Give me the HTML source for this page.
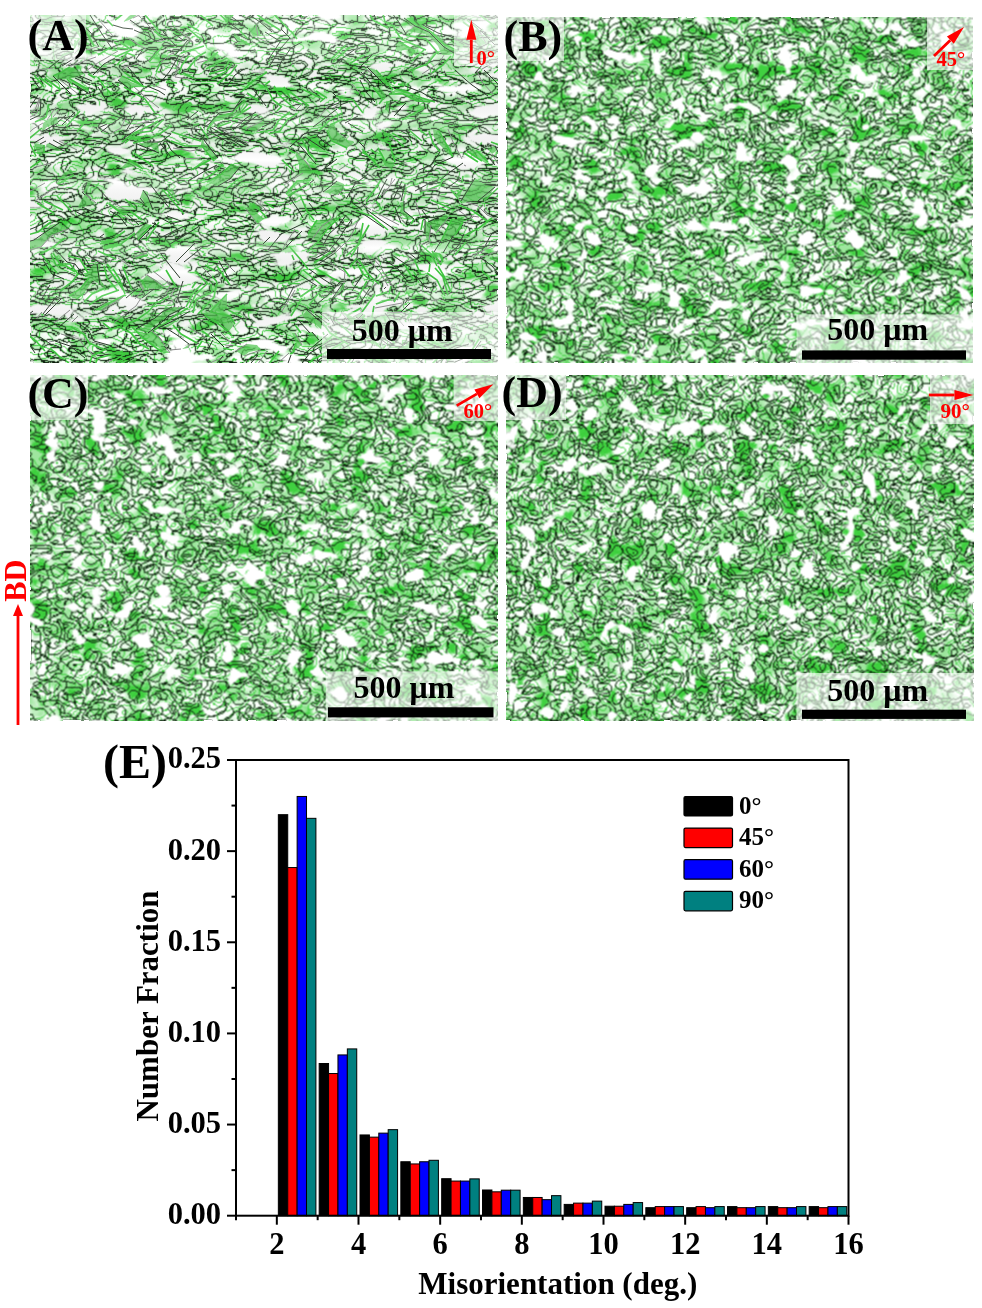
<!DOCTYPE html>
<html><head><meta charset="utf-8"><title>Figure</title>
<style>html,body{margin:0;padding:0;background:#fff;} svg{display:block}</style></head>
<body>
<svg width="982" height="1308" viewBox="0 0 982 1308">
<defs>
<filter id="soft" x="-2%" y="-2%" width="104%" height="104%"><feConvolveMatrix order="3" kernelMatrix="1 2 1 2 4 2 1 2 1"/></filter>
<filter id="mfA" x="0" y="0" width="1" height="1" color-interpolation-filters="sRGB"><feTurbulence type="fractalNoise" baseFrequency="0.024 0.05" numOctaves="2" seed="11"/><feColorMatrix values="1 0 0 0 0 0 1 0 0 0 0 0 1 0 0 0 0 0 0 1"/><feComponentTransfer result="p"><feFuncR type="discrete" tableValues="0.000 0.200 0.400 0.600 0.800 1.000"/><feFuncG type="discrete" tableValues="0.000 0.143 0.286 0.429 0.571 0.714 0.857 1.000"/><feFuncB type="discrete" tableValues="0.000 0.200 0.400 0.600 0.800 1.000"/></feComponentTransfer><feConvolveMatrix in="p" order="3" kernelMatrix="0 -1 0 -1 4 -1 0 -1 0" preserveAlpha="true" result="e"/><feColorMatrix in="e" values="0 0 0 0 0.04 0 0 0 0 0.1 0 0 0 0 0.04 40 0 40 0 0" result="blk"/><feColorMatrix in="e" values="0 0 0 0 0.22 0 0 0 0 0.8 0 0 0 0 0.22 0 40 0 0 0" result="grl"/><feGaussianBlur in="blk" stdDeviation="1.1"/><feColorMatrix values="0 0 0 0 0.28 0 0 0 0 0.82 0 0 0 0 0.28 0 0 0 1.1 -0.1" result="halo"/><feTurbulence type="fractalNoise" baseFrequency="0.03 0.06" numOctaves="3" seed="12" result="n2"/><feColorMatrix in="n2" values="0 0 0 0 0.62 0 0 0 0 0.9 0 0 0 0 0.62 4.0 0 0 0 -1.9" result="gl"/><feColorMatrix in="n2" values="0 0 0 0 0.25 0 0 0 0 0.82 0 0 0 0 0.25 0 8.0 0 0 -5.0" result="gb"/><feFlood flood-color="#fff" result="w"/><feMerge result="m"><feMergeNode in="w"/><feMergeNode in="gl"/><feMergeNode in="gb"/><feMergeNode in="halo"/><feMergeNode in="grl"/><feMergeNode in="blk"/></feMerge><feTurbulence type="fractalNoise" baseFrequency="0.02 0.06" numOctaves="2" seed="13"/><feColorMatrix values="0 0 0 0 1 0 0 0 0 1 0 0 0 0 1 16 0 0 0 -9.9" result="wh"/><feMerge result="m"><feMergeNode in="m"/><feMergeNode in="wh"/></feMerge><feTurbulence type="fractalNoise" baseFrequency="0.08" numOctaves="1" seed="16" result="t"/><feDisplacementMap in="m" in2="t" scale="3" xChannelSelector="R" yChannelSelector="G" result="m"/><feConvolveMatrix in="m" order="3" kernelMatrix="0 1 0 1 4 1 0 1 0" preserveAlpha="true"/></filter>
<clipPath id="cpA"><rect x="30" y="15" width="468" height="348"/></clipPath>
<filter id="mfB" x="0" y="0" width="1" height="1" color-interpolation-filters="sRGB"><feTurbulence type="fractalNoise" baseFrequency="0.04 0.05" numOctaves="2" seed="21"/><feColorMatrix values="1 0 0 0 0 0 1 0 0 0 0 0 1 0 0 0 0 0 0 1"/><feComponentTransfer result="p"><feFuncR type="discrete" tableValues="0.000 0.200 0.400 0.600 0.800 1.000"/><feFuncG type="discrete" tableValues="0.000 0.143 0.286 0.429 0.571 0.714 0.857 1.000"/><feFuncB type="discrete" tableValues="0.000 0.200 0.400 0.600 0.800 1.000"/></feComponentTransfer><feConvolveMatrix in="p" order="3" kernelMatrix="0 -1 0 -1 4 -1 0 -1 0" preserveAlpha="true" result="e"/><feColorMatrix in="e" values="0 0 0 0 0.04 0 0 0 0 0.1 0 0 0 0 0.04 45 0 45 0 0" result="blk"/><feColorMatrix in="e" values="0 0 0 0 0.22 0 0 0 0 0.8 0 0 0 0 0.22 0 40 0 0 0" result="grl"/><feGaussianBlur in="blk" stdDeviation="1.1"/><feColorMatrix values="0 0 0 0 0.28 0 0 0 0 0.82 0 0 0 0 0.28 0 0 0 1.1 -0.1" result="halo"/><feTurbulence type="fractalNoise" baseFrequency="0.04 0.05" numOctaves="3" seed="22" result="n2"/><feColorMatrix in="n2" values="0 0 0 0 0.62 0 0 0 0 0.9 0 0 0 0 0.62 4.0 0 0 0 -1.8" result="gl"/><feColorMatrix in="n2" values="0 0 0 0 0.25 0 0 0 0 0.82 0 0 0 0 0.25 0 8.0 0 0 -4.7" result="gb"/><feFlood flood-color="#fff" result="w"/><feMerge result="m"><feMergeNode in="w"/><feMergeNode in="gl"/><feMergeNode in="gb"/><feMergeNode in="halo"/><feMergeNode in="grl"/><feMergeNode in="blk"/></feMerge><feTurbulence type="fractalNoise" baseFrequency="0.045 0.06" numOctaves="2" seed="23"/><feColorMatrix values="0 0 0 0 1 0 0 0 0 1 0 0 0 0 1 20 0 0 0 -13.0" result="wh"/><feMerge result="m"><feMergeNode in="m"/><feMergeNode in="wh"/></feMerge><feTurbulence type="fractalNoise" baseFrequency="0.08" numOctaves="1" seed="26" result="t"/><feDisplacementMap in="m" in2="t" scale="3" xChannelSelector="R" yChannelSelector="G" result="m"/><feConvolveMatrix in="m" order="3" kernelMatrix="1 2 1 2 4 2 1 2 1" preserveAlpha="true"/></filter>
<clipPath id="cpB"><rect x="506" y="17" width="467" height="346"/></clipPath>
<filter id="mfC" x="0" y="0" width="1" height="1" color-interpolation-filters="sRGB"><feTurbulence type="fractalNoise" baseFrequency="0.04 0.05" numOctaves="2" seed="31"/><feColorMatrix values="1 0 0 0 0 0 1 0 0 0 0 0 1 0 0 0 0 0 0 1"/><feComponentTransfer result="p"><feFuncR type="discrete" tableValues="0.000 0.200 0.400 0.600 0.800 1.000"/><feFuncG type="discrete" tableValues="0.000 0.143 0.286 0.429 0.571 0.714 0.857 1.000"/><feFuncB type="discrete" tableValues="0.000 0.200 0.400 0.600 0.800 1.000"/></feComponentTransfer><feConvolveMatrix in="p" order="3" kernelMatrix="0 -1 0 -1 4 -1 0 -1 0" preserveAlpha="true" result="e"/><feColorMatrix in="e" values="0 0 0 0 0.04 0 0 0 0 0.1 0 0 0 0 0.04 45 0 45 0 0" result="blk"/><feColorMatrix in="e" values="0 0 0 0 0.22 0 0 0 0 0.8 0 0 0 0 0.22 0 40 0 0 0" result="grl"/><feGaussianBlur in="blk" stdDeviation="1.1"/><feColorMatrix values="0 0 0 0 0.28 0 0 0 0 0.82 0 0 0 0 0.28 0 0 0 1.1 -0.1" result="halo"/><feTurbulence type="fractalNoise" baseFrequency="0.04 0.05" numOctaves="3" seed="32" result="n2"/><feColorMatrix in="n2" values="0 0 0 0 0.62 0 0 0 0 0.9 0 0 0 0 0.62 4.0 0 0 0 -1.8" result="gl"/><feColorMatrix in="n2" values="0 0 0 0 0.25 0 0 0 0 0.82 0 0 0 0 0.25 0 8.0 0 0 -4.7" result="gb"/><feFlood flood-color="#fff" result="w"/><feMerge result="m"><feMergeNode in="w"/><feMergeNode in="gl"/><feMergeNode in="gb"/><feMergeNode in="halo"/><feMergeNode in="grl"/><feMergeNode in="blk"/></feMerge><feTurbulence type="fractalNoise" baseFrequency="0.045 0.06" numOctaves="2" seed="33"/><feColorMatrix values="0 0 0 0 1 0 0 0 0 1 0 0 0 0 1 20 0 0 0 -13.0" result="wh"/><feMerge result="m"><feMergeNode in="m"/><feMergeNode in="wh"/></feMerge><feTurbulence type="fractalNoise" baseFrequency="0.08" numOctaves="1" seed="36" result="t"/><feDisplacementMap in="m" in2="t" scale="3" xChannelSelector="R" yChannelSelector="G" result="m"/><feConvolveMatrix in="m" order="3" kernelMatrix="1 2 1 2 4 2 1 2 1" preserveAlpha="true"/></filter>
<clipPath id="cpC"><rect x="30" y="375" width="468" height="346"/></clipPath>
<filter id="mfD" x="0" y="0" width="1" height="1" color-interpolation-filters="sRGB"><feTurbulence type="fractalNoise" baseFrequency="0.045 0.05" numOctaves="2" seed="5"/><feColorMatrix values="1 0 0 0 0 0 1 0 0 0 0 0 1 0 0 0 0 0 0 1"/><feComponentTransfer result="p"><feFuncR type="discrete" tableValues="0.000 0.200 0.400 0.600 0.800 1.000"/><feFuncG type="discrete" tableValues="0.000 0.143 0.286 0.429 0.571 0.714 0.857 1.000"/><feFuncB type="discrete" tableValues="0.000 0.200 0.400 0.600 0.800 1.000"/></feComponentTransfer><feConvolveMatrix in="p" order="3" kernelMatrix="0 -1 0 -1 4 -1 0 -1 0" preserveAlpha="true" result="e"/><feColorMatrix in="e" values="0 0 0 0 0.04 0 0 0 0 0.1 0 0 0 0 0.04 45 0 45 0 0" result="blk"/><feColorMatrix in="e" values="0 0 0 0 0.22 0 0 0 0 0.8 0 0 0 0 0.22 0 40 0 0 0" result="grl"/><feGaussianBlur in="blk" stdDeviation="1.1"/><feColorMatrix values="0 0 0 0 0.28 0 0 0 0 0.82 0 0 0 0 0.28 0 0 0 1.1 -0.1" result="halo"/><feTurbulence type="fractalNoise" baseFrequency="0.045 0.05" numOctaves="3" seed="7" result="n2"/><feColorMatrix in="n2" values="0 0 0 0 0.62 0 0 0 0 0.9 0 0 0 0 0.62 4.0 0 0 0 -1.8" result="gl"/><feColorMatrix in="n2" values="0 0 0 0 0.25 0 0 0 0 0.82 0 0 0 0 0.25 0 8.0 0 0 -4.7" result="gb"/><feFlood flood-color="#fff" result="w"/><feMerge result="m"><feMergeNode in="w"/><feMergeNode in="gl"/><feMergeNode in="gb"/><feMergeNode in="halo"/><feMergeNode in="grl"/><feMergeNode in="blk"/></feMerge><feTurbulence type="fractalNoise" baseFrequency="0.05" numOctaves="2" seed="9"/><feColorMatrix values="0 0 0 0 1 0 0 0 0 1 0 0 0 0 1 20 0 0 0 -13.0" result="wh"/><feMerge result="m"><feMergeNode in="m"/><feMergeNode in="wh"/></feMerge><feTurbulence type="fractalNoise" baseFrequency="0.08" numOctaves="1" seed="10" result="t"/><feDisplacementMap in="m" in2="t" scale="3" xChannelSelector="R" yChannelSelector="G" result="m"/><feConvolveMatrix in="m" order="3" kernelMatrix="1 2 1 2 4 2 1 2 1" preserveAlpha="true"/></filter>
<clipPath id="cpD"><rect x="506" y="375" width="468" height="346"/></clipPath>
<linearGradient id="bgA" x1="0" y1="0" x2="0" y2="1"><stop offset="0.1149" stop-color="#fff" stop-opacity="0.2"/><stop offset="0.2126" stop-color="#000" stop-opacity="0.0"/><stop offset="0.3017" stop-color="#fff" stop-opacity="0.2"/><stop offset="0.4167" stop-color="#000" stop-opacity="0.0"/><stop offset="0.4799" stop-color="#fff" stop-opacity="0.2"/><stop offset="0.5948" stop-color="#000" stop-opacity="0.0"/><stop offset="0.6695" stop-color="#fff" stop-opacity="0.2"/><stop offset="0.7385" stop-color="#000" stop-opacity="0.0"/><stop offset="0.8017" stop-color="#fff" stop-opacity="0.2"/><stop offset="0.9195" stop-color="#000" stop-opacity="0.0"/></linearGradient>
</defs>
<rect width="982" height="1308" fill="#fff"/>
<g clip-path="url(#cpA)"><rect x="30" y="15" width="468" height="348" filter="url(#mfA)"/>
<g>
<path d="M461 201l2 2 3-1 4-5 7-5 6-8-8-6-5 7-6 9zM466 202l7-1 5 0 10-4 7-10-12-3-6 8-7 5zM210 160l-6 0-13 10 12-6zM207 182l11 4 3-2 9-5 5-7 5-5-8-3-4 4-8 7-7 3zM396 89l-7 5 6-2 8 2 8 5 6 2 6 0 7 1 5 0-6-2-7-2-5-1-5-3-8-5zM236 351l8 5 5-4 5-1 7-1-4-5-10-1zM376 70l-9-3 7 7 7 6 6 7 2-2-4-5-5-4zM76 19l-4 1 4 3 7 4 4 7 2 7 5 5 5 1-5-3-3-7-2-8-7-7zM478 29l-7 2 0 2 8 14 7-4-6-6zM240 93l1 0 5 1 3 2-7-3zM246 94l6 4 6 4 5 2-6-5-8-3zM332 299l7-6 5-4 0-4 0-1-1-1-1 2-4 7zM386 110l3 3 0-5 2-8-4 2 0 5zM50 295l-3 4-2 5zM425 234l2 6 2 1 1-7 1-9-6-5 0 7zM74 175l-3-6-7 4-8 11 2 0 5-7 6-3zM439 131l-6-2 1 8 3 5 6 6 3 4 7 5-2-9-6-6-3-4zM428 222l8 11 4-7 6-3 3-6-4-3-6 5-8 1zM441 241l5-2 9-4 6-6 2-7 1-3-12 0-3 7-4 6zM456 195l3 3 1-1 2-7zM136 329l12 4 7-9 6-3 5-2 2-3 2-1 7-3 8-5-13 0-7 0-2 4-2 4-3 1-6 4-9 8zM158 328l2 0 8-1 6-4 3-4 5-3 8-5-9 5-5 2-3 4-8 4zM440 254l-8-3 7 4 2 5 0 5 2-3 0-6zM396 254l-4 1 1 0 7 1zM333 123l-3 1 2 6 5 7 4 3 9 4 2 0 2-1 0-1-1-1-6-1-7-6-3-3zM330 124l-3 7 1 0 2 7 3 4 6 2 8 4 5-4-2 0-9-4-4-3-5-7zM152 331l-11 2-9-6 6 5 5 6 3 3 5 3 7 3 4 5 1 1 7 0-4-3-4-8-4-6-4-4zM407 319l3-2 2-1 0-6-1 3zM116 368l7 1 4 1 8-7 2-5-3 0-8 7-4 2zM202 137l-1 8 6 6 7 10 4-3-4-5-5-6-5-4zM159 153l-1-10-11-1-10 2 7 2 7 1zM129 160l-8 8 4 0 10-2 8 3-6-7zM207 130l4-3 4-5 11-4 7-2 5-1 8-13-1-2-5 10-6 3-6 0-8 2-8 5-3 7zM53 76l6 3 6 0 4 0 6-2 9-3-1-1-13-6-6 2-2 3-5 3zM136 234l2 6 2-4 4-5 7-6-4-1-2 0-6 6zM70 79l-1 0 3 4 10 7 6 3 1-3-3-3-7-2zM236 261l-3-4-7 1 3 0zM351 316l-6-3-4-1 5 4 6 9 8-1-5-6zM392 169l3-7-9-1-5-4 4 9zM246 129l11 3 2-3 6-5-3-3-6 2-4 3zM179 204l-3-6-2-6-2-4-5 2 4 2 4 6zM143 190l-3 8 3 1 1 4 9 7-3-7-2-6 0-5zM295 150l1 6 3 8 0 7 1 2 9 0 3-2 0-1-2-3-4-5-7-7zM307 310l-5 6 6 5 7 3 6 5 1-6-9-6zM74 52l0-4-3 3-8 3-7 7-8 7 1 0 8-6 6-5 8-3zM251 205l-5 4 6 8 5 7 7-5-6-5zM74 45l0 3 0 1 5-10-3 2zM404 201l-4 2 1 4-1 4 2 3 6 6 6-1-7-6-3-2 0-6zM373 340l-2 1 2 3 3 2 5 2-4-4zM125 210l-8-2-7-5-1 1 9 6 6 5 5-3zM190 344l-8 5 6-1zM123 22l6-2 4-2 6-5 4-2 7-1-12-2-4 5-5 3zM415 51l-7-1 3 6zM495 146l-7 3 4 5 5-4zM476 150l-2 0-7 1 6 5 6 2 3 3 5 3 1-2-3-6-3-3zM504 255l-14 3 5 1 4 3 5 6 4 4 2-10 0-7zM376 304l-1 0 7-3 10 0-1-2-9 1zM308 234l-1 4 6 0 5-5 3-5 3-3 4-2 5-5-9 2-7 0-3 3-1 4zM313 238l5 4 3-5 3-7 7-4 4-4 5-5-7 1-5 5-4 2-3 3-3 5zM210 312l13-1 4-3 0-14-6 7-7 4zM241 40l-4 4 13 1zM374 317l-6 0-1 0-1 4 5 1 1 6 5 8 10 0-2-7-4-8zM366 321l-2 3 2 4 3 5 4 7 4-4-5-8-1-6zM96 310l5 1 9-6 9-4 4-4 1 0 1-2-3 2-7 3-11 4zM134 257l3 3 1-2 10-3-1-2-6 0zM227 8l-11 3 8 5 4 6 5-6zM355 269l1-4-3 1zM420 25l-5 1 8 3 4 2 6 3 8 8 3 7 3 2 7 2 4-2-8-3-5-3-3-6-6-5-7-2-5-3zM415 26l-7 5 10 2 7 1 6 4 7 8 3 7 2 2 6 0 5-2-7-2-3-2-3-7-8-8-6-3-4-2zM399 42l-2 3-1 7 6-2 6 0 7 1-6-4-4-3zM147 275l-5 5 4 8 14 1 5-2-9-7zM142 280l-3 1 4 8 3-1zM49 143l-2 1-1 1 1 2 3 1 7 3 7 0-6-3-8-4zM101 264l-4 0 0 7 0 7 3 7 7 4-6-8-2-10zM97 264l-2-1-10 12 1 2 7 3 7 5-3-7 0-7zM286 194l2 2 6-9 7-4 8 0 2-3-7 1-7 0-7 6zM93 75l4-5 10-5 8-2 0-5-3 5-8 1-8 7zM85 194l-7 13 2 1 6-2 10-3-8-4zM84 190l0 2 1 1 1 0 4-8 2-4-5 1 0 2zM391 357l5 2 5-2 9-2 6-5 5-5-11-4-1 0-4 5-7 3-4 4zM383 100l1 0 2-3-1-3-3-4-9-3 5 7zM312 332l-5 1 5 6 3 3 4-2zM295 333l-3 0 4 10-3 8 9-6-2-6zM218 52l-6 3-2 2-7 7 10-3zM353 317l6 1 4-4-1-2zM359 318l3 0 3-3-2-1zM122 76l-4 4 10 8 15-2-12-4zM260 30l-4-4 2 10 3-2zM256 26l-7 3 4 8 5-1zM234 33l0 4 4 5 2-2 0-3zM401 201l3 0 3-12-2-5-1 11zM211 312l-8 1 2 3 6 3 2 1 9 4 6 7 1 0 5-6 1-1-2-1-2-5-3-3-10-2zM440 208l4 3 2-1zM323 192l15 3 6-6 0-5-7-3-7 8zM69 296l8 3 8-7 8-12-4-2-5 5-4 6-5 4zM23 243l-3 4 2 5 8-1 9-3 4-3 3-4 9-7 9-3 4-2-9-6-9 2-6 8-5 5-5 2-6 2zM44 145l-10-2 2 7 4 6 4-3zM404 82l-6 2 6 2 5 0zM58 123l-1-6-7 1-7 5-1 9 5-5 5-2z" fill="#4cc44c" fill-opacity=".7"/>
<path d="M459 205l14 6 14 10M462 181l1-5M484 201l14-13M497 197l3-7M191 170l19-10M197 183l16-9 10-10M207 182l13-7 12-11M224 191l18-15M291 316l11-18M308 309l1-2M389 142l6 20M378 148l6 11M371 149l5 5M396 89l16 5 10 4 13 4M389 94l14 0 14 7 13 1M267 352l0-1M114 42l4 3M113 48l3 2M145 15l16 18M390 79l5 5M376 70l13 15M357 79l1 1M149 62l14-16M264 370l15-19M253 237l1-1M107 20l6 6M72 20l13 10 9 16M68 25l10 7 4 8M75 40l0 2M498 31l5 9M277 111l4-4M300 297l16-11M309 305l10-12 11-6M379 104l3-4M386 110l1-8M409 107l5-2M411 224l3-5M421 230l2-10M124 87l21 12 10 14M420 193l20-8M376 201l6 9M98 77l7 11M90 84l0 1M402 120l22-12M58 184l16-9M459 134l1 5M439 131l6 11 8 15M429 131l4 12 7 9M441 241l11-22M455 235l8-13M440 186l3-8M456 195l6-5M273 13l18 19M255 13l12 9 13 8M120 325l15-4 13-9 10-11M154 330l12-7 7-6 15-9M25 20l6 5M20 21l9 8M344 284l0-1M357 299l10-18M362 312l13-18M372 317l2-11M412 334l19 7 17 9M115 57l16-7M117 65l10-12 8 3M464 236l15-8 13-10M506 254l3-2M200 127l8 11M300 195l7 16 7 9M27 163l3-5M30 168l10-7M330 60l16-15M333 62l17-15M349 64l15-9M447 360l14-5 11-5 7-11M464 366l18-12 3-7M440 254l3 8M432 251l9 14M421 245l10 9 6 12M396 254l4 2M327 131l5 10 15 7M132 327l11 11 8 6 11 8M117 326l14 7 9 11 9 5M407 319l5-9M111 355l12-4M113 361l14-8M114 365l16-9M181 53l23-7M195 58l11-6M100 244l11-3 14-10M104 249l17-5 14-11M201 145l13 16M134 153l19 13M129 160l14 9M207 130l7-12 18-5 13-13M217 127l14-5M302 373l10-13 6-3 19-11 7-4M455 255l11-13M320 102l5-4M339 109l2-2M430 264l-1 8M414 259l7 16M260 132l13-2 6-10 11-8M269 134l11-3 7-11 10-6M296 142l21-7M125 199l11 10M488 163l1 1M122 142l12-9 13-6 11-6M125 143l12-10 15-2 11-11M133 143l16-4 12-6 10-7M36 66l1-2M53 76l9-4 8-5M138 240l13-15M146 241l13-19M381 6l4 16 8 4 8 13M368 12l6 9 14 7M88 74l7 4M70 79l19 11M226 258l10 3M217 266l13 19M212 276l5 6M209 283l1 1M363 318l4 2M255 25l0 1M289 246l12 14 7 9M292 255l2 5M362 149l18 19M362 152l14 9M241 112l7-8M232 119l19-12M167 190l12 14M162 189l8 9 14 16M179 74l3-9 7-9M187 70l10-12M301 138l8 15 8 8M389 294l2-8M394 302l6-10M356 211l15 5 17 14M312 310l2 3M295 325l6 8M264 202l10 6M253 203l14 15M138 206l1 0M130 211l12 9M74 45l2-4M74 49l5-10M385 336l10 7M373 340l8 8M371 341l2 3M117 84l2 2M106 88l6 7M86 95l0 1M494 73l12-10M228 332l4 4M156 72l5-10M438 266l6 10 7 16M435 268l8 9 5 18M427 273l10 7 8 16M413 279l0 1M66 127l14-16M77 132l11-14M382 130l7 7M374 136l15 7M109 204l15 11M197 349l5-8M115 20l12-9M411 56l4-5M412 61l12-11M409 71l18-7 10-12M432 73l11-8 8-9M218 257l4 2M208 261l10 1M205 265l10 6M195 271l13 13M476 150l12 12M467 151l15 10M464 153l14 9M319 131l12-12 11-6M330 125l13-6M284 87l6 11M274 86l6 10 14 12M265 84l8 16 9 7M247 93l12 8M107 264l4 5M490 258l9 4 9 10M482 271l8 8M376 296l11-4M376 304l15-5M186 111l6-7M193 125l6-1M308 234l9-14M318 242l10-14 12-11M346 256l13-12 4-21M351 257l7-12 11-20M186 307l7-14 10-10M189 308l7-14 11-10M193 313l3-13 16-8-1-8M198 314l16-17 3-15M210 312l17-18M202 331l6 4M19 328l17 13 9 10M291 31l6 8M241 40l9 5M491 142l13 5M409 317l0 1M405 320l1 2M366 328l7 12M35 122l11-5 3-13M192 288l4-6M418 128l9 8M409 130l13 11M403 146l1 1M323 323l7 10M26 288l7-6M233 349l0 1M84 302l8-8 13-6M89 305l13-9 17-6M96 310l19-10 10-5M113 311l0-1M138 258l10-3M289 150l6 3M282 160l13 12M227 8l6 8M216 11l12 11M197 12l16 14M187 24l12 7M353 266l2 3M343 268l7 9M315 268l17 10 8 4M303 270l10 8 11 9M288 283l12 1M282 285l5 2M282 287l0 1M420 25l11 7 13 12 14 7M406 35l20 4 13 15M401 39l25 11M399 42l16 9M316 91l11 7M302 89l21 10M290 92l19 14M290 99l13 6M166 270l10 17M142 280l4 8M392 133l14 8M388 133l15 13M154 31l7 5M120 42l13 9M117 48l11 1M123 267l9 23M113 269l6 9 6 16M108 268l7 10 9 13M104 266l3 12 10 12M85 275l1 2M286 194l11-13 14-1M288 196l21-13M98 55l13-8M94 189l5-6M98 251l18 8M383 349l3-4M410 355l11-10M311 374l2-6M320 370l0-8M327 367l2-14M330 369l8-16M342 370l11-14M426 370l14-14M477 13l15 11M467 20l11 9M463 22l11 8M103 323l9 7M71 327l13 7 5 9 16 7M50 348l10 9 9 6M173 325l8 9 16 9M68 256l12 3 8 14M53 253l7 11 10 0 8 10M51 254l5 11 10 1 9 6M42 255l9 11 6 7M307 252l11-10M314 263l17-11M350 267l7-9M125 296l1-1M159 302l10-6M373 87l10 13M345 92l1 1M323 332l1 3M296 343l-3 8M291 353l-1 1M203 64l15-12M206 69l21-11M209 74l15-4 5-9M212 79l15-8 5-8M217 84l14-11 6-8M240 93l12-11 15-10M266 84l4-3M348 315l13-7M362 318l3-3M25 142l17-14M67 79l6 6M45 78l16 12M39 77l13 10M34 75l10 12M124 72l20 15M122 76l21 10M240 31l7 7M186 27l17 14M57 196l14 15M44 201l19 9M37 203l17 10M366 202l15-22M189 70l6 2M183 73l11 5M166 82l11 1M228 310l14 7M211 312l19 4 5 8M205 316l8 4 15 11M172 132l15 5 14 4M171 141l14 5 16 0M451 190l11 13M431 200l19 8M440 208l6 2M223 348l9 2M344 196l0-1M60 291l12-9 6-8M69 296l11-7 9-11M77 299l8-7M291 354l3-3M322 345l11-10M24 236l14-4 13-10M40 254l12-6 13-10M414 272l2 4M405 265l8 14M359 260l9 14 11 10M357 263l6 11 10 8M362 324l3 1M341 325l13 12 11 6M330 333l18 11M336 96l17 4 10 13M74 370l15-4 3-10 14-7M91 373l7-15 13-3M44 145l0 8M29 142l7 14M398 84l6 2M389 85l4 5" fill="none" stroke="#40c840" stroke-width="1.6"/>
<path d="M466 202l12 4 9 9 12 5M453 206l12 9 14 2M236 189l1-1M282 311l13-21M236 351l11-7M244 356l17-6M139 16l15 15M161 62l13-10M255 368l12-17M278 363l11-10M303 375l0-1M282 250l13-21M98 19l15 17M493 27l11 17M478 29l8 14M246 94l3 2M294 287l6-3M295 111l7-7M54 323l16-13M72 322l6-6M429 241l2-16M153 85l13 5M134 87l15 13 10 8M422 191l15-3M355 199l16 11M107 83l3 2M448 129l5 13 9 17M436 233l13-16M114 323l7-6 15-11 5-8M20 27l7 5M446 326l11 5M122 68l17-5M339 170l9-6M463 226l11-10M474 255l19-9 11-8M480 257l18-6 9-6M220 128l16 9 13 6M288 202l3 3M36 167l15-4M152 331l8 7 10 15M113 344l5 4M375 308l27-5M157 42l7-2M426 245l6-4M333 108l7-4M381 257l5 3M376 257l0 1M133 200l7 3M111 200l14 10M492 154l6 10M133 125l16-4M37 70l16-2M222 259l13 13M341 312l11 13M419 160l3-1M246 129l16-8M257 132l2-3M175 77l2-9 7-14M197 63l11-3M295 150l11 12 6 8M372 210l12 7 15 8M66 66l5-3M256 201l16 14M246 209l11 15M124 215l10 11M75 53l10-11M74 58l8-7 16-4M70 66l26-9M415 200l6 18M482 69l18-10M221 333l9 9M188 348l2-4M133 18l17-8M422 74l17-11 5-8M202 267l10 10M464 165l2 1M317 119l11-12M239 93l4 0M160 267l2 1M207 364l17-7M118 258l13 9M370 288l7-5M313 238l9-12 11-8M335 253l15-15 8-17M212 328l4 5M49 342l5-1M25 344l3 8M257 37l18 10M487 143l7 3M397 318l7 8M28 100l3-7M23 119l12-9 5-13M22 122l15-9 3-15M47 120l9-13M53 117l6-7M166 294l4-8M171 296l4-9M101 311l22-14M134 257l13-4M330 263l15 9-1 11M153 271l19 15M147 275l18 12M139 281l4 8M389 138l7 4M126 37l20 12M284 185l19-12M83 73l13-9 12-7 10-6M85 194l11 9M93 256l18 6M91 258l16 6M108 135l13-7 5-11M423 366l1-2M442 368l5-8M61 334l18 5 5 7 9 9M188 327l17 10M170 350l11-1M311 258l16-9M135 299l9-11M168 304l6-5M177 309l2-3M82 192l2-1M352 84l10 12M295 333l7 12M353 317l9-5M21 140l12-11 10-6M59 79l19 15M119 85l1 1M256 26l2 10M176 28l17 14M161 37l3 3M36 319l6-7M381 196l9-10 2-8M383 195l12-16M175 77l14 2M209 329l1 0M173 148l17 3 12-2M183 159l18-1M458 198l2 2M225 345l8 1M223 352l4 2M338 195l6-6M59 141l18 9M64 150l2 2M25 222l7-8M22 252l19-5 10-11 17-7M370 255l10 11 4 7 8 13M364 253l11 14 5 5 8 14M98 367l14-7M105 366l9-2M27 193l18-10M35 201l9-6 16-10M477 71l5 11 11 12" fill="none" stroke="#8a8a8a" stroke-width="1"/>
<path d="M106 205l2 1M82 207l11 5 16 4M73 210l11 6 16 3M461 201l14-23M478 201l17-14M502 194l1-2M417 359l10-10M420 362l13-11M188 181l17-10 12-6M218 186l12-7 10-12M276 310l10-8 8-16M170 224l16-4M160 238l22-11 6-2M170 244l20-12 8-5M405 86l16 6 17 10M166 141l5 9 9 8M160 143l11 14M113 25l10 3 10 1M130 20l14 10M367 67l20 20M361 72l13 15M136 59l6-8M237 371l6-9M245 370l13-15M287 366l4-11M291 372l7-7M296 373l5-2M263 244l7-7M268 250l14-17M286 247l16-16M90 15l12 19 9 13M76 19l15 14 8 14M480 30l15 15M240 93l2 0M258 102l5 2M317 304l11-9 12-13M332 299l11-16M389 113l2-13M397 112l9-9M43 260l9 14 12 5M266 52l1 0M268 60l12-18M269 67l11-18 10-11M277 72l4-10 10-14 11-6M45 304l5-9M43 314l14-18M45 315l16-16M59 327l15-13M425 234l0-14M147 86l12 5 6 4M415 191l13-7 10-3M350 201l12 9M340 105l8-3M345 123l13-7M394 116l7-7M407 123l13-4M425 140l1 2M423 220l7-3M428 222l17-8M446 189l15-11M245 12l15 10 12 10M136 329l19-11 7-6 10-5M148 333l15-12 6-6 16-8M158 328l17-8 15-9M352 291l9-14M359 305l11-17M419 322l23 12 13 8M410 340l17 9M321 171l16-12M467 250l17-2 8-15 11-3M214 126l21 13 11 6M210 127l22 13 11 7M207 130l9 5 15 9M309 203l8 10M289 197l8 11 6 10M26 161l1-1M317 56l0-1M324 55l12-5M337 62l17-12M358 69l14-14M443 355l13-7 13-4M455 362l12-5 9-9 5-7M415 250l15 14M408 252l11 9M392 255l1 0M348 123l15 9M317 135l7 7 8 5M305 137l20 13M387 313l14-1 9-9M116 368l18-10M163 46l14-1M176 54l12-14M346 199l9-15 13-10M100 237l4-3M217 143l11 9M202 137l7 10 9 11M201 159l1 0M137 144l22 9M203 128l6-4 10-11 14-2 10-15M299 367l11-14 23-14M313 369l7-10 20-9 11-6M344 354l10-5M434 252l7-11M443 253l10-17M447 256l11-10 6-12M328 107l11-4M392 255l18 12M262 127l9-4M290 147l14-13 14-4M497 150l5 10M490 159l5 6M122 139l11-7 11-9 10-1M147 142l14 0 10-8M139 240l17-17M157 237l3-4M404 18l11 8M389 9l9 12 8 13M80 76l12 5M75 78l15 7M72 83l16 10M219 261l11 20M356 317l9 6M330 317l5 9M232 17l16 12M228 22l12 9M419 170l12-5 9-13M426 176l9-11 18-8M440 180l10-8 13-9M361 155l7 2M233 130l12-11 11-7M239 129l19-14M150 184l10 13 11 13M143 190l5 7 5 13M140 198l4 5M170 71l9-16M296 141l12 14 8 9M384 289l2-2M405 303l4-5M367 210l11 8 16 11M351 211l14 4 19 13M307 310l15 13M299 321l11 12M455 70l11 10 6 5 16 11M49 68l14-11 11-5M62 66l11-7M127 214l12 11M119 216l8 10M433 216l1 0M422 210l5 7M404 201l0 10 10 8M395 207l6 16M380 336l11 7M377 336l10 8M112 83l5 4M98 87l8 13M89 91l2 6M464 67l2-3M475 73l8-9M233 326l1 0M211 334l13 13M161 82l9-11M416 276l11 13M58 122l8-7M62 125l13-13M356 139l9 9M110 211l9 5M207 351l6-11M157 13l3-1M495 146l2 4M313 127l12-9 12-9M253 89l13 17M161 254l11 14 8 10M218 362l5-6M504 255l6 0M480 257l12 9 11 13M185 103l4-3M187 120l11-9M323 246l6-12 10-9 7-10M329 251l11-14 5-8 7-10M357 258l1-11M40 337l12 8M25 338l10 15M281 29l9 9M265 32l16 10M481 148l3 2M385 313l13 18M374 317l13 19M366 321l11 15M27 112l11-17M25 122l15-7 1-16M176 303l7-22M497 13l8 7M495 15l8 7M407 136l5 6M41 300l9-15M231 342l10 2M291 149l3 0M309 269l14 10 11 7M297 273l20 13M415 26l14 6 15 15 10 6M333 93l3 3M401 131l6 3M134 30l14 6 9 6M53 140l9 5M49 143l15 8M119 269l10 24M97 264l3 21M303 188l3-2M102 49l3-4M93 75l11-11 11-6M99 189l10 11M182 213l1 2M167 216l14 5M159 217l13 7M152 223l12 5M82 184l0-1M84 190l3-8M88 255l15 10M98 128l9-4M101 132l9-7 12-8M112 137l14-6 9-15M279 235l21-10 8-3M391 357l7-8 11-8M304 375l1-1M333 371l14-16M348 369l7-12M438 367l6-9M468 19l14 11M77 322l12 9 5 10 18 5M55 341l15 5 15 12M53 357l13 4M166 328l11 7 12 9M75 256l10 2 6 10M55 249l12 13 8 2 9 12M312 260l17-9M317 265l18-12M331 263l19-6M126 298l12-10M142 298l12-9M156 301l11-6M360 80l6 12 9 10M312 332l7 8M227 86l8-11 9-6M344 290l4-2M359 318l4-4M34 143l10-6M40 144l6-3M53 76l17 17M32 78l8 11M128 67l15 18M118 80l10 8M260 30l1 4M234 37l4 5M423 25l15 8 11 3 20 9M173 33l10 7M163 32l13 14M24 318l9-7M44 315l1 0M82 192l3 3M376 201l6-13 5-9M393 200l9-19M401 201l4-17M184 128l19 2M310 183l4-3M312 188l19-5M323 192l14-11M318 311l11 10M315 314l12 9M303 355l12-10 13-11M23 232l13-5 12-6M23 243l11-3 10-7 15-10M385 260l13 9 9 12M353 275l1 1M365 98l6 5M64 365l19-3M23 142l8 15M498 72l5 6M484 70l12 12 7 8M178 245l1-2M176 262l19-19M184 262l20-16M42 132l16-9" fill="none" stroke="#2a3a2a" stroke-width="1"/>
</g>
</g>
<g clip-path="url(#cpB)"><rect x="506" y="17" width="467" height="346" filter="url(#mfB)"/>
</g>
<g clip-path="url(#cpC)"><rect x="30" y="375" width="468" height="346" filter="url(#mfC)"/>
</g>
<g clip-path="url(#cpD)"><rect x="506" y="375" width="468" height="346" filter="url(#mfD)"/>
</g>
<rect x="30" y="15" width="468" height="348" fill="url(#bgA)"/>
<rect x="30" y="15" width="56" height="45" fill="#ffffff" fill-opacity="0.6"/>
<rect x="506" y="17" width="58" height="44" fill="#ffffff" fill-opacity="0.6"/>
<rect x="30" y="375" width="58" height="45" fill="#ffffff" fill-opacity="0.6"/>
<rect x="506" y="375" width="60" height="45" fill="#ffffff" fill-opacity="0.6"/>
<rect x="322" y="312" width="176" height="51" fill="#ffffff" fill-opacity="0.6"/>
<rect x="796.5" y="314.4" width="176.5" height="48.6" fill="#ffffff" fill-opacity="0.6"/>
<rect x="325.7" y="671.4" width="172.3" height="49.6" fill="#ffffff" fill-opacity="0.6"/>
<rect x="796.5" y="673" width="177.5" height="48" fill="#ffffff" fill-opacity="0.6"/>
<rect x="454" y="15" width="44" height="51" fill="#ffffff" fill-opacity="0.6"/>
<rect x="927" y="17" width="46" height="53" fill="#ffffff" fill-opacity="0.6"/>
<rect x="453.6" y="375" width="44.4" height="46" fill="#ffffff" fill-opacity="0.6"/>
<rect x="930" y="375" width="44" height="49" fill="#ffffff" fill-opacity="0.6"/>
<text x="27.6" y="50.3" font-size="44" text-anchor="start" fill="#000" style="font-family:'Liberation Serif','Times New Roman',serif;font-weight:bold" >(A)</text>
<text x="503.6" y="50.5" font-size="44" text-anchor="start" fill="#000" style="font-family:'Liberation Serif','Times New Roman',serif;font-weight:bold" >(B)</text>
<text x="27.4" y="407.5" font-size="44" text-anchor="start" fill="#000" style="font-family:'Liberation Serif','Times New Roman',serif;font-weight:bold" >(C)</text>
<text x="501.6" y="407.3" font-size="44" text-anchor="start" fill="#000" style="font-family:'Liberation Serif','Times New Roman',serif;font-weight:bold" >(D)</text>
<rect x="327" y="349" width="164" height="10.0" fill="#000"/>
<text x="351.8" y="341" font-size="32" text-anchor="start" fill="#000" style="font-family:'Liberation Serif','Times New Roman',serif;font-weight:bold" >500 μm</text>
<rect x="802" y="350.4" width="164" height="9.3" fill="#000"/>
<text x="827.3" y="340.1" font-size="32" text-anchor="start" fill="#000" style="font-family:'Liberation Serif','Times New Roman',serif;font-weight:bold" >500 μm</text>
<rect x="328" y="707.3" width="165.5" height="10.1" fill="#000"/>
<text x="353.5" y="698.1" font-size="32" text-anchor="start" fill="#000" style="font-family:'Liberation Serif','Times New Roman',serif;font-weight:bold" >500 μm</text>
<rect x="802" y="709.7" width="164" height="9.2" fill="#000"/>
<text x="827.3" y="701.4" font-size="32" text-anchor="start" fill="#000" style="font-family:'Liberation Serif','Times New Roman',serif;font-weight:bold" >500 μm</text>
<line x1="471.3" y1="63" x2="471.3" y2="39.8" stroke="#ff0000" stroke-width="2.8"/>
<polygon points="471.3,19.8 476.3,39.8 466.3,39.8" fill="#ff0000"/>
<text x="476.5" y="65" font-size="20.5" text-anchor="start" fill="#ff0000" style="font-family:'Liberation Serif','Times New Roman',serif;font-weight:bold" >0°</text>
<line x1="934" y1="56" x2="950.3" y2="40.2" stroke="#ff0000" stroke-width="2.8"/>
<polygon points="964,27 953.8,43.8 946.9,36.6" fill="#ff0000"/>
<text x="936.5" y="66" font-size="20.5" text-anchor="start" fill="#ff0000" style="font-family:'Liberation Serif','Times New Roman',serif;font-weight:bold" >45°</text>
<line x1="456.7" y1="405.6" x2="476.9" y2="393.9" stroke="#ff0000" stroke-width="2.8"/>
<polygon points="493.3,384.3 479.4,398.2 474.4,389.5" fill="#ff0000"/>
<text x="463.5" y="418.4" font-size="20.5" text-anchor="start" fill="#ff0000" style="font-family:'Liberation Serif','Times New Roman',serif;font-weight:bold" >60°</text>
<line x1="928.8" y1="395" x2="954.5" y2="395.0" stroke="#ff0000" stroke-width="2.8"/>
<polygon points="973.5,395 954.5,400.0 954.5,390.0" fill="#ff0000"/>
<text x="940.5" y="418.3" font-size="21" text-anchor="start" fill="#ff0000" style="font-family:'Liberation Serif','Times New Roman',serif;font-weight:bold" >90°</text>
<line x1="18" y1="725" x2="18.0" y2="616.0" stroke="#ff0000" stroke-width="2.8"/>
<polygon points="18,604 23.0,616.0 13.0,616.0" fill="#ff0000"/>
<text x="0" y="0" font-size="30.5" fill="#ff0000" style="font-family:'Liberation Serif','Times New Roman',serif;font-weight:bold" transform="translate(26 601.8) rotate(-90)">BD</text>
<rect x="278.34" y="814.68" width="9.39" height="401.02" fill="#000000" stroke="#000" stroke-width="1"/>
<rect x="287.74" y="867.55" width="9.39" height="348.15" fill="#ff0000" stroke="#000" stroke-width="1"/>
<rect x="297.13" y="796.46" width="9.39" height="419.24" fill="#0000ff" stroke="#000" stroke-width="1"/>
<rect x="306.52" y="818.33" width="9.39" height="397.37" fill="#008080" stroke="#000" stroke-width="1"/>
<rect x="319.18" y="1063.50" width="9.39" height="152.20" fill="#000000" stroke="#000" stroke-width="1"/>
<rect x="328.57" y="1073.52" width="9.39" height="142.18" fill="#ff0000" stroke="#000" stroke-width="1"/>
<rect x="337.96" y="1054.93" width="9.39" height="160.77" fill="#0000ff" stroke="#000" stroke-width="1"/>
<rect x="347.35" y="1048.91" width="9.39" height="166.79" fill="#008080" stroke="#000" stroke-width="1"/>
<rect x="360.01" y="1134.95" width="9.39" height="80.75" fill="#000000" stroke="#000" stroke-width="1"/>
<rect x="369.40" y="1137.14" width="9.39" height="78.56" fill="#ff0000" stroke="#000" stroke-width="1"/>
<rect x="378.79" y="1133.13" width="9.39" height="82.57" fill="#0000ff" stroke="#000" stroke-width="1"/>
<rect x="388.19" y="1129.66" width="9.39" height="86.04" fill="#008080" stroke="#000" stroke-width="1"/>
<rect x="400.84" y="1161.75" width="9.39" height="53.95" fill="#000000" stroke="#000" stroke-width="1"/>
<rect x="410.24" y="1163.93" width="9.39" height="51.77" fill="#ff0000" stroke="#000" stroke-width="1"/>
<rect x="419.63" y="1161.75" width="9.39" height="53.95" fill="#0000ff" stroke="#000" stroke-width="1"/>
<rect x="429.02" y="1160.29" width="9.39" height="55.41" fill="#008080" stroke="#000" stroke-width="1"/>
<rect x="441.68" y="1178.70" width="9.39" height="37.00" fill="#000000" stroke="#000" stroke-width="1"/>
<rect x="451.07" y="1181.07" width="9.39" height="34.63" fill="#ff0000" stroke="#000" stroke-width="1"/>
<rect x="460.46" y="1181.07" width="9.39" height="34.63" fill="#0000ff" stroke="#000" stroke-width="1"/>
<rect x="469.85" y="1178.88" width="9.39" height="36.82" fill="#008080" stroke="#000" stroke-width="1"/>
<rect x="482.51" y="1190.00" width="9.39" height="25.70" fill="#000000" stroke="#000" stroke-width="1"/>
<rect x="491.90" y="1191.82" width="9.39" height="23.88" fill="#ff0000" stroke="#000" stroke-width="1"/>
<rect x="501.29" y="1190.18" width="9.39" height="25.52" fill="#0000ff" stroke="#000" stroke-width="1"/>
<rect x="510.69" y="1190.18" width="9.39" height="25.52" fill="#008080" stroke="#000" stroke-width="1"/>
<rect x="523.34" y="1197.47" width="9.39" height="18.23" fill="#000000" stroke="#000" stroke-width="1"/>
<rect x="532.74" y="1197.47" width="9.39" height="18.23" fill="#ff0000" stroke="#000" stroke-width="1"/>
<rect x="542.13" y="1199.66" width="9.39" height="16.04" fill="#0000ff" stroke="#000" stroke-width="1"/>
<rect x="551.52" y="1195.65" width="9.39" height="20.05" fill="#008080" stroke="#000" stroke-width="1"/>
<rect x="564.18" y="1204.40" width="9.39" height="11.30" fill="#000000" stroke="#000" stroke-width="1"/>
<rect x="573.57" y="1203.12" width="9.39" height="12.58" fill="#ff0000" stroke="#000" stroke-width="1"/>
<rect x="582.96" y="1203.12" width="9.39" height="12.58" fill="#0000ff" stroke="#000" stroke-width="1"/>
<rect x="592.35" y="1201.12" width="9.39" height="14.58" fill="#008080" stroke="#000" stroke-width="1"/>
<rect x="605.01" y="1206.22" width="9.39" height="9.48" fill="#000000" stroke="#000" stroke-width="1"/>
<rect x="614.40" y="1206.22" width="9.39" height="9.48" fill="#ff0000" stroke="#000" stroke-width="1"/>
<rect x="623.79" y="1204.40" width="9.39" height="11.30" fill="#0000ff" stroke="#000" stroke-width="1"/>
<rect x="633.19" y="1202.58" width="9.39" height="13.12" fill="#008080" stroke="#000" stroke-width="1"/>
<rect x="645.84" y="1207.68" width="9.39" height="8.02" fill="#000000" stroke="#000" stroke-width="1"/>
<rect x="655.24" y="1206.59" width="9.39" height="9.11" fill="#ff0000" stroke="#000" stroke-width="1"/>
<rect x="664.63" y="1206.59" width="9.39" height="9.11" fill="#0000ff" stroke="#000" stroke-width="1"/>
<rect x="674.02" y="1206.59" width="9.39" height="9.11" fill="#008080" stroke="#000" stroke-width="1"/>
<rect x="686.68" y="1207.68" width="9.39" height="8.02" fill="#000000" stroke="#000" stroke-width="1"/>
<rect x="696.07" y="1206.59" width="9.39" height="9.11" fill="#ff0000" stroke="#000" stroke-width="1"/>
<rect x="705.46" y="1207.68" width="9.39" height="8.02" fill="#0000ff" stroke="#000" stroke-width="1"/>
<rect x="714.85" y="1206.59" width="9.39" height="9.11" fill="#008080" stroke="#000" stroke-width="1"/>
<rect x="727.51" y="1206.59" width="9.39" height="9.11" fill="#000000" stroke="#000" stroke-width="1"/>
<rect x="736.90" y="1207.68" width="9.39" height="8.02" fill="#ff0000" stroke="#000" stroke-width="1"/>
<rect x="746.29" y="1207.68" width="9.39" height="8.02" fill="#0000ff" stroke="#000" stroke-width="1"/>
<rect x="755.69" y="1206.59" width="9.39" height="9.11" fill="#008080" stroke="#000" stroke-width="1"/>
<rect x="768.34" y="1206.59" width="9.39" height="9.11" fill="#000000" stroke="#000" stroke-width="1"/>
<rect x="777.74" y="1207.68" width="9.39" height="8.02" fill="#ff0000" stroke="#000" stroke-width="1"/>
<rect x="787.13" y="1207.68" width="9.39" height="8.02" fill="#0000ff" stroke="#000" stroke-width="1"/>
<rect x="796.52" y="1206.59" width="9.39" height="9.11" fill="#008080" stroke="#000" stroke-width="1"/>
<rect x="809.18" y="1206.59" width="9.39" height="9.11" fill="#000000" stroke="#000" stroke-width="1"/>
<rect x="818.57" y="1207.68" width="9.39" height="8.02" fill="#ff0000" stroke="#000" stroke-width="1"/>
<rect x="827.96" y="1206.59" width="9.39" height="9.11" fill="#0000ff" stroke="#000" stroke-width="1"/>
<rect x="837.35" y="1206.59" width="9.39" height="9.11" fill="#008080" stroke="#000" stroke-width="1"/>
<rect x="236" y="760" width="612.5" height="455.70000000000005" fill="none" stroke="#000" stroke-width="2"/>
<line x1="227" y1="1215.70" x2="236" y2="1215.70" stroke="#000" stroke-width="2"/>
<text x="221" y="1224.1000000000001" font-size="30.5" text-anchor="end" fill="#000" style="font-family:'Liberation Serif','Times New Roman',serif;font-weight:bold" >0.00</text>
<line x1="231.5" y1="1170.13" x2="236" y2="1170.13" stroke="#000" stroke-width="2"/>
<line x1="227" y1="1124.56" x2="236" y2="1124.56" stroke="#000" stroke-width="2"/>
<text x="221" y="1132.96" font-size="30.5" text-anchor="end" fill="#000" style="font-family:'Liberation Serif','Times New Roman',serif;font-weight:bold" >0.05</text>
<line x1="231.5" y1="1078.99" x2="236" y2="1078.99" stroke="#000" stroke-width="2"/>
<line x1="227" y1="1033.42" x2="236" y2="1033.42" stroke="#000" stroke-width="2"/>
<text x="221" y="1041.8200000000002" font-size="30.5" text-anchor="end" fill="#000" style="font-family:'Liberation Serif','Times New Roman',serif;font-weight:bold" >0.10</text>
<line x1="231.5" y1="987.85" x2="236" y2="987.85" stroke="#000" stroke-width="2"/>
<line x1="227" y1="942.28" x2="236" y2="942.28" stroke="#000" stroke-width="2"/>
<text x="221" y="950.68" font-size="30.5" text-anchor="end" fill="#000" style="font-family:'Liberation Serif','Times New Roman',serif;font-weight:bold" >0.15</text>
<line x1="231.5" y1="896.71" x2="236" y2="896.71" stroke="#000" stroke-width="2"/>
<line x1="227" y1="851.14" x2="236" y2="851.14" stroke="#000" stroke-width="2"/>
<text x="221" y="859.54" font-size="30.5" text-anchor="end" fill="#000" style="font-family:'Liberation Serif','Times New Roman',serif;font-weight:bold" >0.20</text>
<line x1="231.5" y1="805.57" x2="236" y2="805.57" stroke="#000" stroke-width="2"/>
<line x1="227" y1="760.00" x2="236" y2="760.00" stroke="#000" stroke-width="2"/>
<text x="221" y="768.4" font-size="30.5" text-anchor="end" fill="#000" style="font-family:'Liberation Serif','Times New Roman',serif;font-weight:bold" >0.25</text>
<line x1="236.00" y1="1215.7" x2="236.00" y2="1220.2" stroke="#000" stroke-width="2"/>
<line x1="276.83" y1="1215.7" x2="276.83" y2="1224.7" stroke="#000" stroke-width="2"/>
<text x="276.8333333333333" y="1253.5" font-size="30.5" text-anchor="middle" fill="#000" style="font-family:'Liberation Serif','Times New Roman',serif;font-weight:bold" >2</text>
<line x1="317.67" y1="1215.7" x2="317.67" y2="1220.2" stroke="#000" stroke-width="2"/>
<line x1="358.50" y1="1215.7" x2="358.50" y2="1224.7" stroke="#000" stroke-width="2"/>
<text x="358.5" y="1253.5" font-size="30.5" text-anchor="middle" fill="#000" style="font-family:'Liberation Serif','Times New Roman',serif;font-weight:bold" >4</text>
<line x1="399.33" y1="1215.7" x2="399.33" y2="1220.2" stroke="#000" stroke-width="2"/>
<line x1="440.17" y1="1215.7" x2="440.17" y2="1224.7" stroke="#000" stroke-width="2"/>
<text x="440.1666666666667" y="1253.5" font-size="30.5" text-anchor="middle" fill="#000" style="font-family:'Liberation Serif','Times New Roman',serif;font-weight:bold" >6</text>
<line x1="481.00" y1="1215.7" x2="481.00" y2="1220.2" stroke="#000" stroke-width="2"/>
<line x1="521.83" y1="1215.7" x2="521.83" y2="1224.7" stroke="#000" stroke-width="2"/>
<text x="521.8333333333334" y="1253.5" font-size="30.5" text-anchor="middle" fill="#000" style="font-family:'Liberation Serif','Times New Roman',serif;font-weight:bold" >8</text>
<line x1="562.67" y1="1215.7" x2="562.67" y2="1220.2" stroke="#000" stroke-width="2"/>
<line x1="603.50" y1="1215.7" x2="603.50" y2="1224.7" stroke="#000" stroke-width="2"/>
<text x="603.5" y="1253.5" font-size="30.5" text-anchor="middle" fill="#000" style="font-family:'Liberation Serif','Times New Roman',serif;font-weight:bold" >10</text>
<line x1="644.33" y1="1215.7" x2="644.33" y2="1220.2" stroke="#000" stroke-width="2"/>
<line x1="685.17" y1="1215.7" x2="685.17" y2="1224.7" stroke="#000" stroke-width="2"/>
<text x="685.1666666666667" y="1253.5" font-size="30.5" text-anchor="middle" fill="#000" style="font-family:'Liberation Serif','Times New Roman',serif;font-weight:bold" >12</text>
<line x1="726.00" y1="1215.7" x2="726.00" y2="1220.2" stroke="#000" stroke-width="2"/>
<line x1="766.83" y1="1215.7" x2="766.83" y2="1224.7" stroke="#000" stroke-width="2"/>
<text x="766.8333333333334" y="1253.5" font-size="30.5" text-anchor="middle" fill="#000" style="font-family:'Liberation Serif','Times New Roman',serif;font-weight:bold" >14</text>
<line x1="807.67" y1="1215.7" x2="807.67" y2="1220.2" stroke="#000" stroke-width="2"/>
<line x1="848.50" y1="1215.7" x2="848.50" y2="1224.7" stroke="#000" stroke-width="2"/>
<text x="848.5" y="1253.5" font-size="30.5" text-anchor="middle" fill="#000" style="font-family:'Liberation Serif','Times New Roman',serif;font-weight:bold" >16</text>
<text x="557.8" y="1294" font-size="31" text-anchor="middle" fill="#000" style="font-family:'Liberation Serif','Times New Roman',serif;font-weight:bold" >Misorientation (deg.)</text>
<text x="0" y="0" font-size="31" text-anchor="middle" style="font-family:'Liberation Serif','Times New Roman',serif;font-weight:bold" transform="translate(158 1006) rotate(-90)">Number Fraction</text>
<text x="103" y="778.3" font-size="48" text-anchor="start" fill="#000" style="font-family:'Liberation Serif','Times New Roman',serif;font-weight:bold" >(E)</text>
<rect x="684" y="796.5" width="48.5" height="19.5" fill="#000000" stroke="#000" stroke-width="1.2" rx="1.5"/>
<text x="739" y="813.5" font-size="25" text-anchor="start" fill="#000" style="font-family:'Liberation Serif','Times New Roman',serif;font-weight:bold" >0°</text>
<rect x="684" y="828.1" width="48.5" height="19.5" fill="#ff0000" stroke="#000" stroke-width="1.2" rx="1.5"/>
<text x="739" y="845.1" font-size="25" text-anchor="start" fill="#000" style="font-family:'Liberation Serif','Times New Roman',serif;font-weight:bold" >45°</text>
<rect x="684" y="859.7" width="48.5" height="19.5" fill="#0000ff" stroke="#000" stroke-width="1.2" rx="1.5"/>
<text x="739" y="876.7" font-size="25" text-anchor="start" fill="#000" style="font-family:'Liberation Serif','Times New Roman',serif;font-weight:bold" >60°</text>
<rect x="684" y="891.3" width="48.5" height="19.5" fill="#008080" stroke="#000" stroke-width="1.2" rx="1.5"/>
<text x="739" y="908.3" font-size="25" text-anchor="start" fill="#000" style="font-family:'Liberation Serif','Times New Roman',serif;font-weight:bold" >90°</text>
</svg>
</body></html>
